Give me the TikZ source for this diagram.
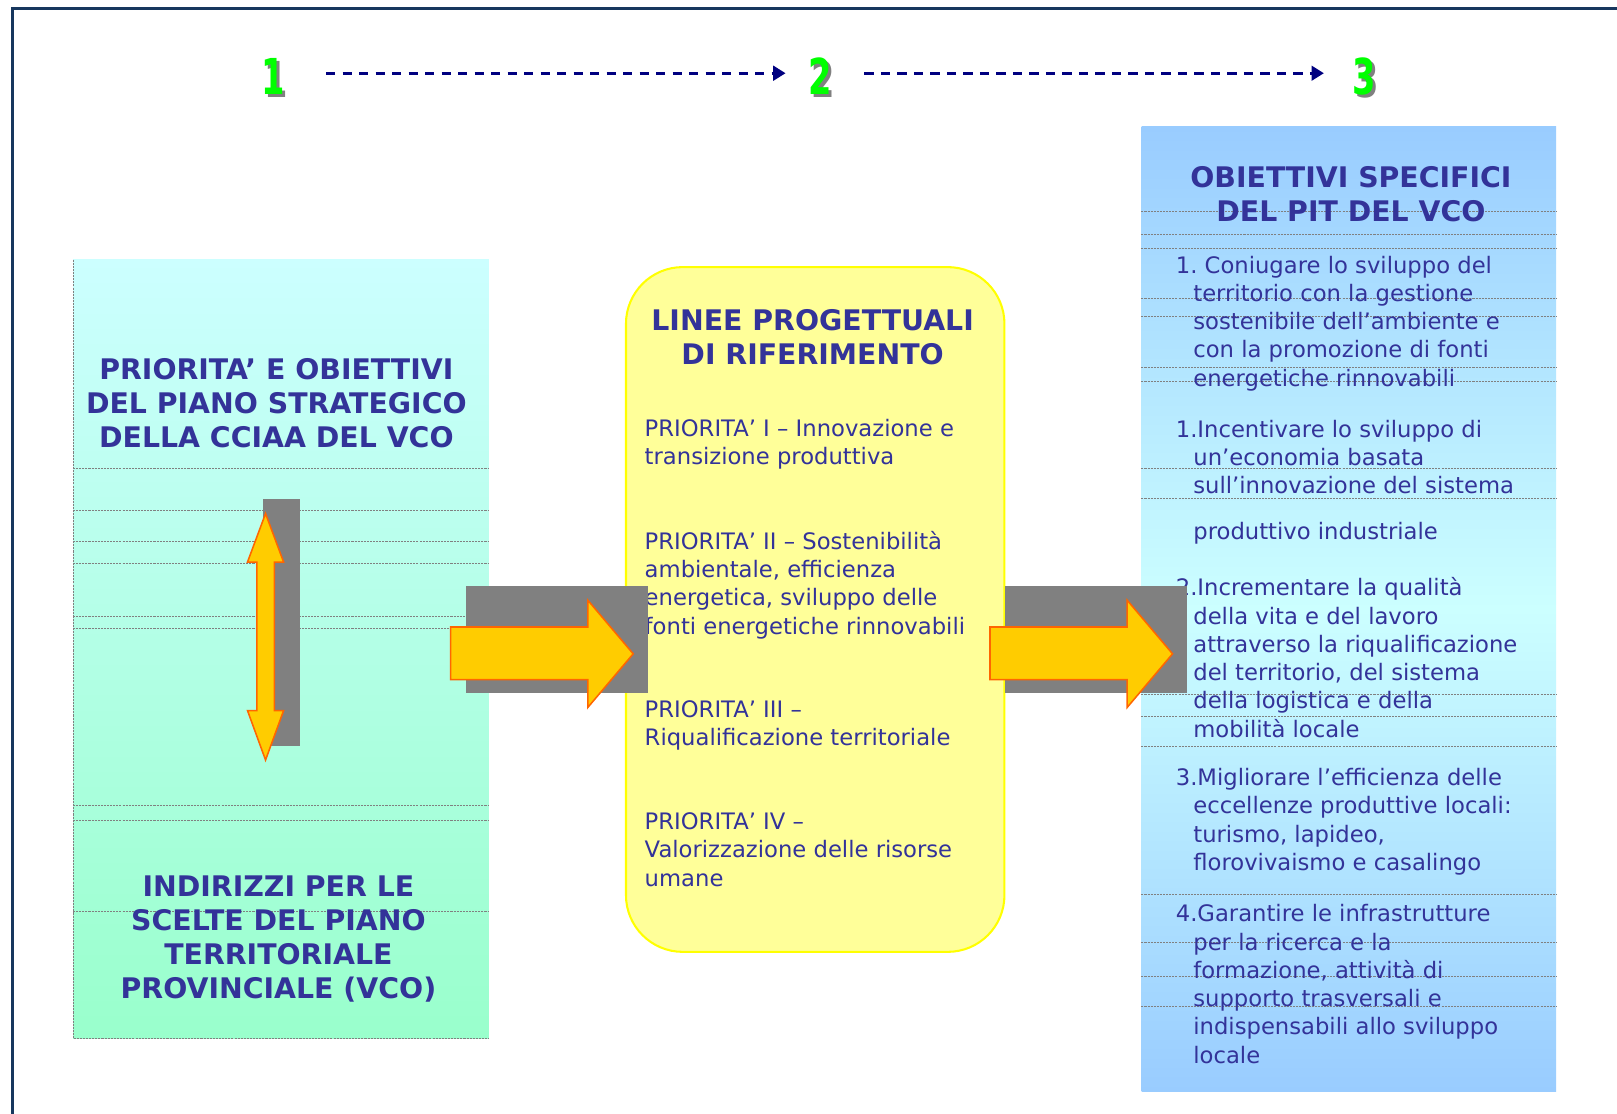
\documentclass[tikz,border=0pt]{standalone}
\usepackage{fontspec}
\setmainfont{DejaVu Sans}
\usetikzlibrary{positioning,arrows.meta}
\definecolor{inkblue}{RGB}{51,51,153}
\definecolor{framenavy}{RGB}{23,55,94}
\definecolor{dashnavy}{RGB}{0,0,128}
\definecolor{numgreen}{RGB}{0,255,0}
\definecolor{aqua}{RGB}{204,255,255}
\definecolor{mint}{RGB}{153,255,204}
\definecolor{sky}{RGB}{153,204,255}
\definecolor{lemon}{RGB}{255,255,153}
\definecolor{lemonline}{RGB}{255,255,0}
\definecolor{arrowfill}{RGB}{255,204,0}
\definecolor{arrowline}{RGB}{255,102,0}
\newcommand{\hind}{\hspace*{17pt}}
\frenchspacing

\begin{document}
\begin{tikzpicture}[x=1pt,y=-1pt,
    colbox/.style={rectangle,inner sep=0},
    rule/.style={gray,line width=0.8pt,dash pattern=on 2pt off 1pt},
    headtext/.style={inner sep=0,align=center,anchor=north,text=inkblue,
      font=\fontsize{27.5}{33}\selectfont\bfseries},
    bodytext/.style={inner sep=0,align=left,anchor=north west,text=inkblue,
      font=\fontsize{22}{27.4}\selectfont},
    stepnum/.style={inner sep=0,minimum width=30pt,
      font=\fontsize{48}{48}\selectfont\bfseries},
    flowdash/.style={dashnavy,line width=3pt,dash pattern=on 9pt off 7pt,
      -{Triangle[length=12pt,width=14pt]},transform canvas={yshift=3pt}},
    bigarrow/.style={fill=arrowfill,draw=arrowline,line width=1.5pt,line join=miter},
    shadowgray/.style={fill=gray}]
  \useasboundingbox[fill=white] (0,0) rectangle (1568,1080);
  \draw[framenavy,line width=2.5pt] (12,1080) -- (12,8) -- (1568,8);

  % step numbers
  \foreach \n/\x in {1/265,2/795,3/1323}{
    \node[stepnum,text=gray] (num\n s) at (\x+3,77) {\scalebox{0.68}[1]{\n}};
    \node[stepnum,text=numgreen] (num\n) at (\x,74) {\scalebox{0.68}[1]{\n}};
  }
  \draw[flowdash,shorten <=36pt,shorten >=18pt] (num1) -- (num2);
  \draw[flowdash,shorten <=28pt,shorten >=24pt] (num2) -- (num3);

  % left column
  \node[colbox,minimum width=403pt,minimum height=755pt,
    top color=aqua,bottom color=mint] (strat) at (272.5,629.5) {};
  \foreach \y in {454,495,525,546,598,609,781,796,884}
    \draw[rule] (strat.west |- 0,\y) -- (strat.east |- 0,\y);
  \draw[rule] (strat.north west) -- (strat.south west) -- (strat.south east);
  \node[headtext] (strattitle) at (268,347)
    {PRIORITA’ E OBIETTIVI\\DEL PIANO STRATEGICO\\DELLA CCIAA DEL VCO};
  \node[headtext] (ptptitle) at (270,849)
    {INDIRIZZI PER LE\\SCELTE DEL PIANO\\TERRITORIALE\\PROVINCIALE (VCO)};

  % middle column
  \node[colbox,minimum width=367pt,minimum height=664pt,rounded corners=55pt,
    fill=lemon,draw=lemonline,line width=2pt] (linee) at (790.5,591) {};
  \node[headtext] (lineetitle) at (788,300) {LINEE PROGETTUALI\\DI RIFERIMENTO};
  \node[bodytext] (prio1) at (625,406) {PRIORITA’ I – Innovazione e\\transizione produttiva};
  \node[bodytext] (prio2) at (625,515) {PRIORITA’ II – Sostenibilità\\ambientale, efficienza\\energetica, sviluppo delle\\fonti energetiche rinnovabili};
  \node[bodytext] (prio3) at (625,679) {PRIORITA’ III –\\Riqualificazione territoriale};
  \node[bodytext] (prio4) at (625,788) {PRIORITA’ IV –\\Valorizzazione delle risorse\\umane};

  % right column
  \node[colbox,minimum width=402pt,minimum height=935pt,
    top color=sky,bottom color=sky,middle color=aqua] (pit) at (1308,590.5) {};
  \foreach \y in {205,227,241,289,307,356,370,454,483,673,695,724,867,914,947,976}
    \draw[rule] (pit.west |- 0,\y) -- (pit.east |- 0,\y);
  \node[headtext] (pittitle) at (1310,161) {OBIETTIVI SPECIFICI\\DEL PIT DEL VCO};
  \node[bodytext] (obj1) at (1140,248) {1. Coniugare lo sviluppo del\\\hind territorio con la gestione\\\hind sostenibile dell’ambiente e\\\hind con la promozione di fonti\\\hind energetiche rinnovabili};
  \node[bodytext] (obj2) at (1140,407) {1.Incentivare lo sviluppo di\\\hind un’economia basata\\\hind sull’innovazione del sistema};
  \node[bodytext] (obj2b) at (1157,506) {produttivo industriale};
  \node[bodytext] (obj3) at (1140,560) {2.Incrementare la qualità\\\hind della vita e del lavoro\\\hind attraverso la riqualificazione\\\hind del territorio, del sistema\\\hind della logistica e della\\\hind mobilità locale};
  \node[bodytext] (obj4) at (1140,745) {3.Migliorare l’efficienza delle\\\hind eccellenze produttive locali:\\\hind turismo, lapideo,\\\hind florovivaismo e casalingo};
  \node[bodytext] (obj5) at (1140,877) {4.Garantire le infrastrutture\\\hind per la ricerca e la\\\hind formazione, attività di\\\hind supporto trasversali e\\\hind indispensabili allo sviluppo\\\hind locale};

  % arrows
  \fill[shadowgray] (255,484) rectangle (291,723);
  \draw[bigarrow] (257.5,498) -- (275,545) -- (266,545) -- (266,689) -- (275,689)
    -- (257.5,737) -- (240,689) -- (249,689) -- (249,545) -- (240,545) -- cycle;
  \foreach \s in {0,523}{
    \fill[shadowgray] (452+\s,568) rectangle (628+\s,672);
    \draw[bigarrow] (437+\s,608) -- (570+\s,608) -- (570+\s,582) -- (614+\s,634)
      -- (570+\s,686) -- (570+\s,659) -- (437+\s,659) -- cycle;
  }
\end{tikzpicture}
\end{document}
